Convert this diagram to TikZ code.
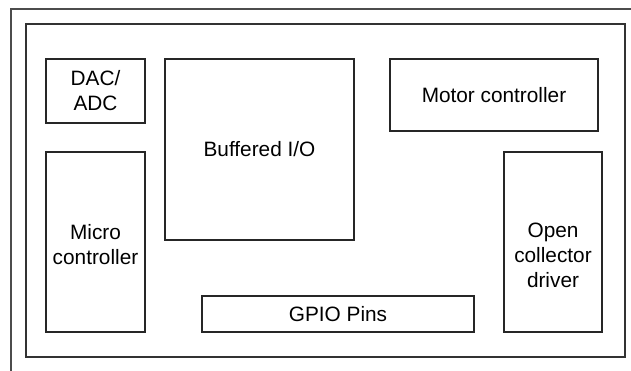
\documentclass[tikz,border=0pt]{standalone}
\usepackage{fontspec}
\setmainfont{Liberation Sans}

\begin{document}
\begin{tikzpicture}[x=1pt, y=-1pt, font=\fontsize{20.8}{25}\selectfont,
    block/.style={draw=black!85, line width=1.2pt, inner sep=0pt, align=center}]
    \useasboundingbox (0,0) rectangle (631,371);
    % frames
    \draw[black!70, line width=1.2pt] (11,371) -- (11,9) -- (631,9);
    \draw[black!80, line width=1.2pt] (26,24) rectangle (625,357);
    % blocks
    \node[block, minimum width=99pt, minimum height=64pt] (dacadc) at (95.5,91) {DAC/\\ADC};
    \node[block, minimum width=189pt, minimum height=181pt] (bufio) at (259.5,149.5) {Buffered I/O};
    \node[block, minimum width=208pt, minimum height=72pt] (motor) at (494,95) {Motor controller};
    \node[block, minimum width=99pt, minimum height=180pt] (micro) at (95.5,242) {};
    \node[align=center, inner sep=0pt] (microtext) at ([yshift=-3pt]micro.center) {Micro\\controller};
    \node[block, minimum width=98pt, minimum height=180pt] (opencoll) at (553,242) {};
    \node[align=center, inner sep=0pt] (opencolltext) at ([yshift=-13pt]opencoll.center) {Open\\collector\\driver};
    \node[block, minimum width=272pt, minimum height=36pt] (gpio) at (338,314) {GPIO Pins};
\end{tikzpicture}
\end{document}
